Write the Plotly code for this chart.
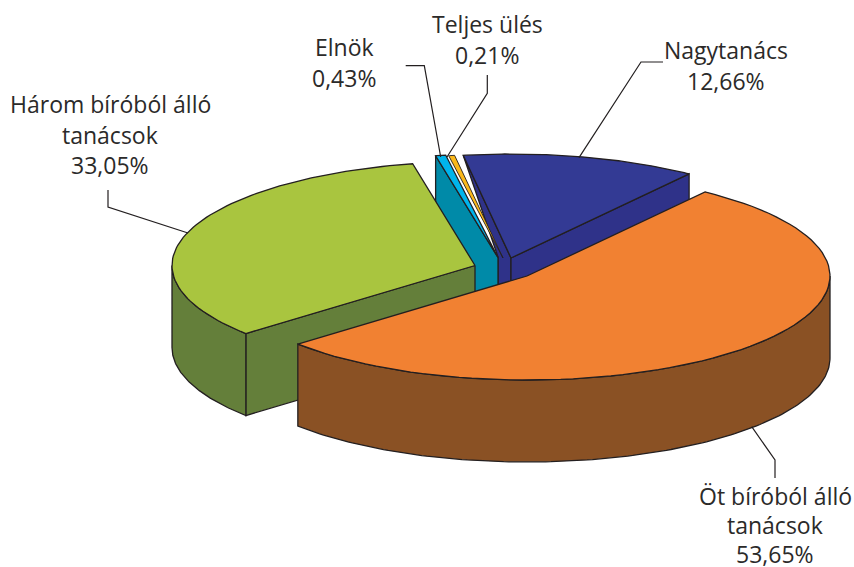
import math
import plotly.graph_objects as go

# ---- data, in drawing order round the pie (clockwise from the orange slice)
slice_names = ["Öt bíróból álló tanácsok", "Három bíróból álló tanácsok", "Elnök", "Teljes ülés", "Nagytanács"]
slice_values = [53.65, 33.05, 0.43, 0.21, 12.66]
value_labels = ["53,65%", "33,05%", "0,43%", "0,21%", "12,66%"]

# ---- geometry / style
W, H = 854, 567
RX, RY, DEPTH = 303, 104, 82
START = 36.0
APEX = [(527, 276), (475, 265.5), (498, 257.5), (503, 258), (511, 258)]
SPAN_SCALE = [1, 1, 1.25, 1.5, 1]      # thin slices are drawn slightly wider in the reference
START_NUDGE = [0, 0, 0, 0, 0.5]
TOP = ["#F18132", "#A9C53F", "#00B4EC", "#FBB81B", "#333A94"]
WALL = ["#8A5124", "#647F3A", "#008AA8", "#C08A10", "#2F3289"]
EDGE = "#231F20"
TEXT = "#2B2A29"
FONT = "Open Sans"
FONT_SIZE = 23

total = sum(slice_values)
angles, a = [], START
for v, scale, nudge in zip(slice_values, SPAN_SCALE, START_NUDGE):
    span = v / total * 360
    angles.append((a + nudge, a + span * scale))
    a += span


def rim(i, deg):
    ax, ay = APEX[i]
    r = math.radians(deg)
    return ax + RX * math.sin(r), ay - RY * math.cos(r)


def arc(i, d0, d1, n=80):
    return [rim(i, d0 + (d1 - d0) * k / n) for k in range(n + 1)]


def down(pts):
    return [(x, y + DEPTH) for x, y in pts]


fig = go.Figure()


def poly(pts, color, name, width=1.3):
    xs = [p[0] for p in pts] + [pts[0][0]]
    ys = [p[1] for p in pts] + [pts[0][1]]
    fig.add_trace(go.Scatter(x=xs, y=ys, mode="lines", fill="toself", fillcolor=color,
                             line=dict(color=EDGE, width=width), name=name, hoverinfo="skip"))


def top_face(i, width=1.3):
    poly([APEX[i]] + arc(i, *angles[i]), TOP[i], slice_names[i], width)


def inner_wall(i, deg):
    e = [APEX[i], rim(i, deg)]
    poly(e + down(e)[::-1], WALL[i], slice_names[i])


# Nagytanács
n = 4
apex = APEX[n]
left = rim(n, angles[n][0])
poly([left, apex, (apex[0], apex[1] + DEPTH), (apex[0] - 13, apex[1] + DEPTH), (apex[0] - 13, apex[1] - 1)],
     WALL[n], slice_names[n])
inner_wall(n, angles[n][1])
top_face(n)

# Elnök
e = 2
inner_wall(e, angles[e][0])
top_face(e)

# Teljes ülés
top_face(3, 0.9)

# Három bíróból álló tanácsok
g = 1
inner_wall(g, angles[g][0])
outer = arc(g, angles[g][0], 270)
poly(outer + down(outer)[::-1], WALL[g], slice_names[g])
top_face(g)

# Öt bíróból álló tanácsok
o = 0
outer = arc(o, 90, angles[o][1], 140)
poly(outer + down(outer)[::-1], WALL[o], slice_names[o])
top_face(o)

# ---- leader lines
leaders = [
    [(751.7, 426.7), (775, 460), (775, 478)],
    [(188, 233), (108, 207), (108, 190)],
    [(405.7, 65.7), (424.3, 65.7), (440.7, 157)],
    [(487.3, 75), (487.3, 93.3), (447, 157)],
    [(579, 157.7), (641, 62), (663, 62)],
]
for pts in leaders:
    fig.add_trace(go.Scatter(x=[p[0] for p in pts], y=[p[1] for p in pts], mode="lines",
                             line=dict(color=EDGE, width=1.2), hoverinfo="skip"))

# ---- labels (one annotation per text line for the reference's line pitch)
label_lines = [
    ["Öt bíróból álló", "tanácsok", value_labels[0]],
    ["Három bíróból álló", "tanácsok", value_labels[1]],
    ["Elnök", value_labels[2]],
    ["Teljes ülés", value_labels[3]],
    ["Nagytanács", value_labels[4]],
]
label_pos = [(775, 496), (110, 104), (344, 47), (487, 24), (726, 50)]
label_pitch = [29, 30.5, 30.5, 30.5, 30.5]
for lines, (cx, cy), pitch in zip(label_lines, label_pos, label_pitch):
    for k, line in enumerate(lines):
        fig.add_annotation(x=cx, y=cy + k * pitch, text=line, showarrow=False,
                           xanchor="center", yanchor="middle",
                           font=dict(family=FONT, size=FONT_SIZE, color=TEXT))

fig.update_layout(
    width=W, height=H, margin=dict(l=0, r=0, t=0, b=0), showlegend=False,
    paper_bgcolor="white", plot_bgcolor="white",
    xaxis=dict(range=[0, W], visible=False, fixedrange=True),
    yaxis=dict(range=[H, 0], visible=False, fixedrange=True),
)
fig.write_html("out.html", config={"displayModeBar": False},
               post_script="document.body.style.margin='0';document.documentElement.style.overflow='hidden';")
